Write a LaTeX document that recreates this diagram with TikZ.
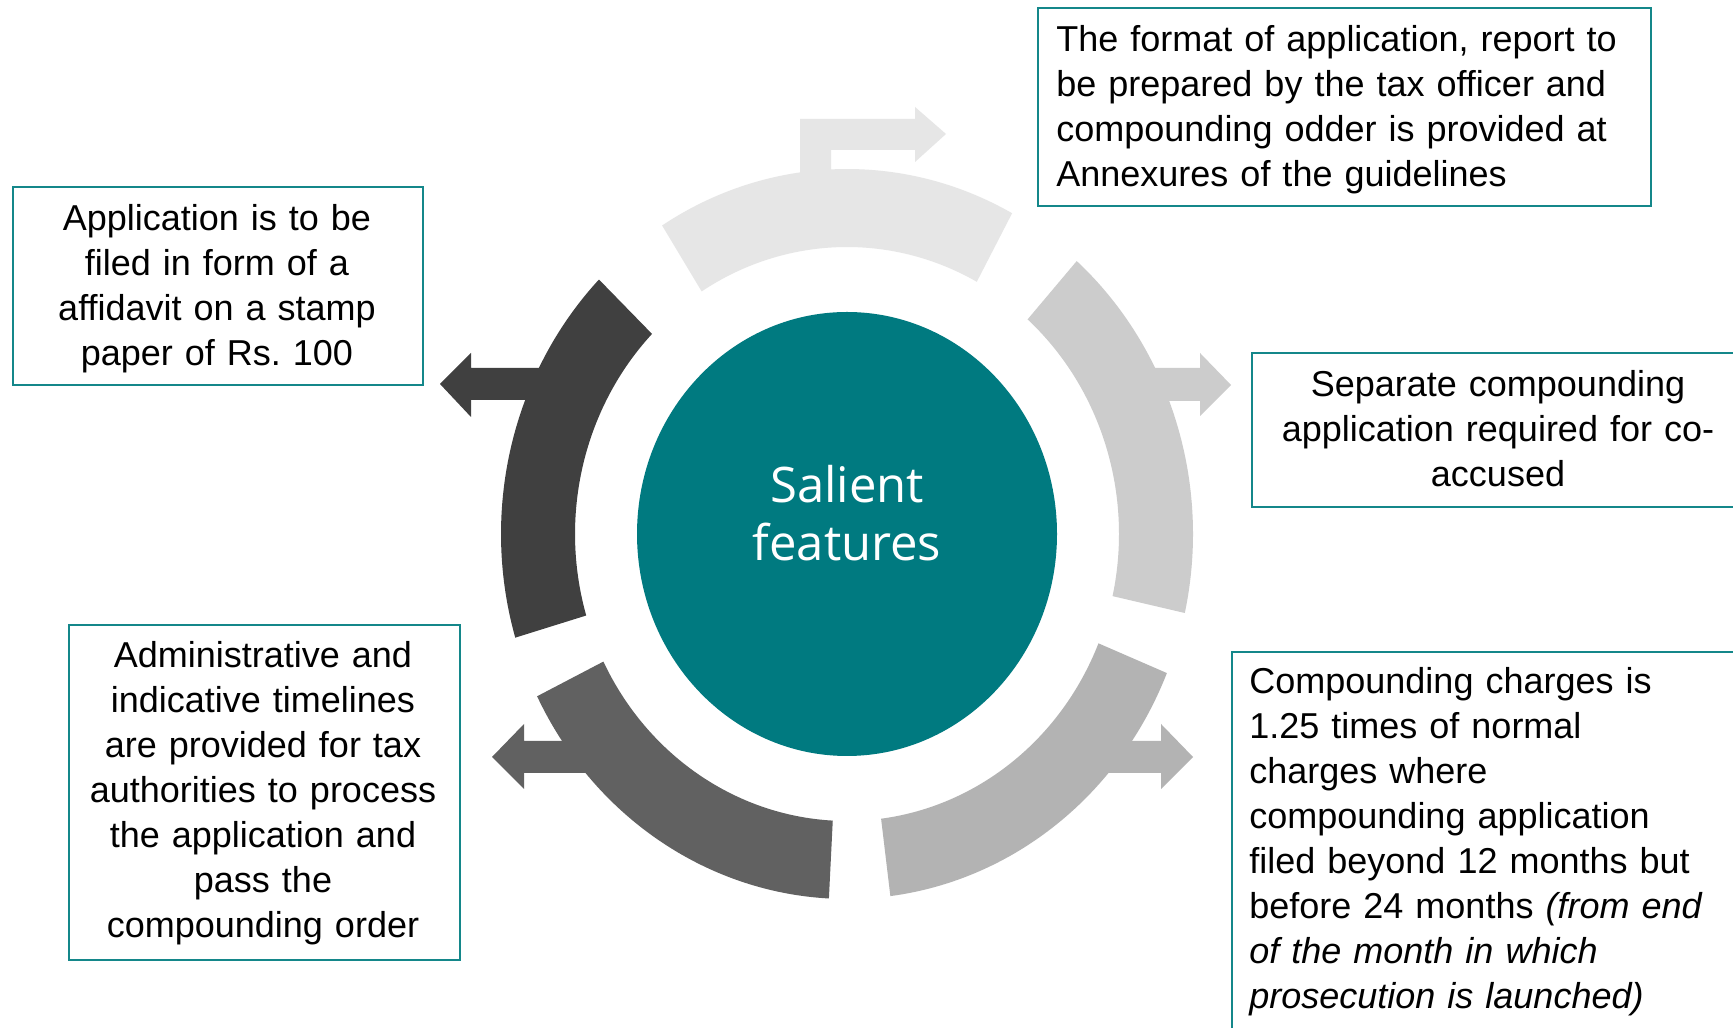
\documentclass[tikz,border=0pt]{standalone}
\usepackage{fontspec}
\setmainfont{Liberation Sans}
\newfontfamily\titlefont{Open Sans}
\usetikzlibrary{shapes.geometric}
\definecolor{hubteal}{RGB}{0,122,128}
\definecolor{tealline}{RGB}{20,135,138}
\definecolor{segtop}{RGB}{230,230,230}
\definecolor{segright}{RGB}{204,204,204}
\definecolor{seglowright}{RGB}{179,179,179}
\definecolor{seglowleft}{RGB}{97,97,97}
\definecolor{segleft}{RGB}{64,64,64}
\newcommand{\ringseg}[3]{%
  \fill[#1] (#2:346 and 365) arc[start angle=#2, end angle=#3, x radius=346, y radius=365]
    -- (#3:272 and 287) arc[start angle=#3, end angle=#2, x radius=272, y radius=287] -- cycle;}
\frenchspacing
\begin{document}
\begin{tikzpicture}[x=0.5pt,y=0.5pt,
  boxtext/.style={inner sep=0pt, font=\fontsize{18pt}{22.5pt}\selectfont},
  infobox/.style={draw=tealline, line width=1.1pt, rectangle, inner sep=0pt, anchor=north west}]
\useasboundingbox (0,0) rectangle (1733,1027);
\clip (0,0) rectangle (1733,1027);
\fill[white] (0,0) rectangle (1733,1027);

% ring segments
\begin{scope}[shift={(847,493)}]
  \ringseg{segtop}{61.5}{122.3}
  \ringseg{segleft}{135.8}{196.5}
  \ringseg{seglowleft}{206.4}{267}
  \ringseg{seglowright}{277.2}{337.6}
  \ringseg{segright}{-12.5}{48.4}
\end{scope}

% arrows on the segments
\fill[segtop] (800,827) -- (800,908) -- (915,908) -- (915,920) -- (946,893) -- (915,865) -- (915,877) -- (831,877) -- (831,827) -- cycle;
\fill[segleft] (580,659) -- (471,659) -- (471,674) -- (440,643) -- (471,610) -- (471,627) -- (580,627) -- cycle;
\fill[segright] (1120,659) -- (1200,659) -- (1200,674) -- (1231,642) -- (1200,611) -- (1200,626) -- (1120,626) -- cycle;
\fill[seglowright] (1070,286) -- (1161,286) -- (1161,303) -- (1193,270) -- (1161,238) -- (1161,254) -- (1070,254) -- cycle;
\fill[seglowleft] (625,286) -- (524,286) -- (524,303) -- (492,270) -- (524,238) -- (524,254) -- (625,254) -- cycle;

% hub
\node[ellipse, fill=hubteal, minimum width=210pt, minimum height=222pt, inner sep=0pt] (hub) at (847,493) {};
\node[inner sep=0pt, text width=200pt, align=center, anchor=base, text=white,
      font=\titlefont\fontsize{24.5pt}{29pt}\selectfont] (hubtext) at (847,524) {Salient\\features};

% boxes
\node[infobox, minimum width=205pt, minimum height=99pt] (b1) at (12,841) {};
\node[infobox, minimum width=306.5pt, minimum height=99pt] (b2) at (1037,1020) {};
\node[infobox, minimum width=247pt, minimum height=77pt] (b3) at (1251,675) {};
\node[infobox, minimum width=195.5pt, minimum height=167.5pt] (b4) at (68,403) {};
\node[infobox, minimum width=264.5pt, minimum height=197pt] (b5) at (1231,376) {};

% texts
\node[boxtext, text width=200pt, align=center, anchor=base] (t1) at (217,796)
  {Application is to be\\filed in form of a\\affidavit on a stamp\\paper of Rs. 100};
\node[boxtext, text width=300pt, align=left, anchor=base west] (t2) at (1056,975)
  {The format of application, report to\\be prepared by the tax officer and\\compounding odder is provided at\\Annexures of the guidelines};
\node[boxtext, text width=245pt, align=center, anchor=base] (t3) at (1498,630)
  {Separate compounding\\application required for co-\\accused};
\node[boxtext, text width=195pt, align=center, anchor=base] (t4) at (263,359)
  {Administrative and\\indicative timelines\\are provided for tax\\authorities to process\\the application and\\pass the\\compounding order};
\node[boxtext, text width=260pt, align=left, anchor=base west] (t5) at (1249,333)
  {Compounding charges is\\1.25 times of normal\\charges where\\compounding application\\filed beyond 12 months but\\before 24 months \textit{(from end}\\\textit{of the month in which}\\\textit{prosecution is launched)}};
\end{tikzpicture}
\end{document}
